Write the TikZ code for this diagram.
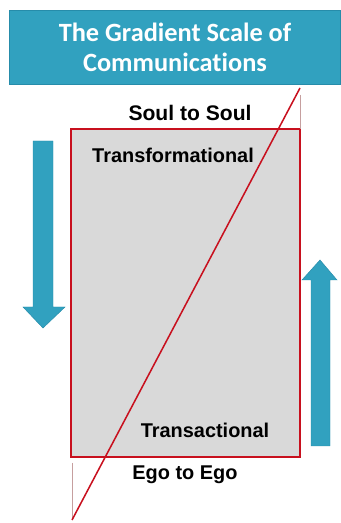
\documentclass[tikz,border=0pt]{standalone}
\usepackage{fontspec}
\setmainfont{Liberation Sans}
\newfontfamily\titlefont[Ligatures=NoCommon]{Carlito}
\usetikzlibrary{positioning}
\definecolor{teal1}{RGB}{49,161,191}
\definecolor{teal2}{RGB}{38,140,170}
\definecolor{redline}{RGB}{200,16,30}
\definecolor{scalegray}{RGB}{217,217,217}
\tikzset{
  banner/.style={rectangle, fill=teal1, draw=teal2, line width=0.5pt},
  bannertxt/.style={align=center, text=white, font=\titlefont\bfseries\fontsize{22.5}{25.5}\selectfont},
  scalebox/.style={rectangle, fill=scalegray, draw=redline, line width=1.8pt},
  tag/.style={font=\bfseries\fontsize{17}{20}\selectfont, inner sep=0pt},
  bigarrow/.style={fill=teal1, draw=teal2, line width=0.4pt},
  diag/.style={draw=redline, line width=1.3pt},
  tick/.style={draw=red!25!gray!60, line width=0.6pt}
}
\begin{document}
\begin{tikzpicture}[x=0.03cm, y=0.03cm]
\useasboundingbox (0,0) rectangle (341,523);
% title banner
\fill[banner] (9,439) rectangle (340,513);
\node[bannertxt] (title) at (175,476) {The Gradient Scale of\\Communications};

% the scale
\draw[scalebox] (71,66) rectangle (300,394);
\coordinate (scaletop) at (300,394);
\coordinate (scalebot) at (71,66);
\node[tag, font=\bfseries\fontsize{18}{20}\selectfont] (soul) at (190,410) {Soul to Soul};
\node[tag] (transf) at (173,368) {Transformational};
\node[tag] (transact) at (205,93) {Transactional};
\node[tag] (ego) at (185,48) {Ego to Ego};

% corner ticks and diagonal
\coordinate (diagtop) at (300,435);
\coordinate (diagbot) at (72,3);
\draw[tick] (300,428) -- (scaletop);
\draw[tick] (72,60) -- (72,3);
\draw[diag] (diagtop) -- (diagbot);

% arrows
\draw[bigarrow] (33,382) -- (53,382) -- (53,216) -- (65,216) -- (43,195)
  -- (23,216) -- (33,216) -- cycle;
\draw[bigarrow] (311,77) -- (330,77) -- (330,243) -- (337,243) -- (320,263)
  -- (302,243) -- (311,243) -- cycle;
\end{tikzpicture}
\end{document}
